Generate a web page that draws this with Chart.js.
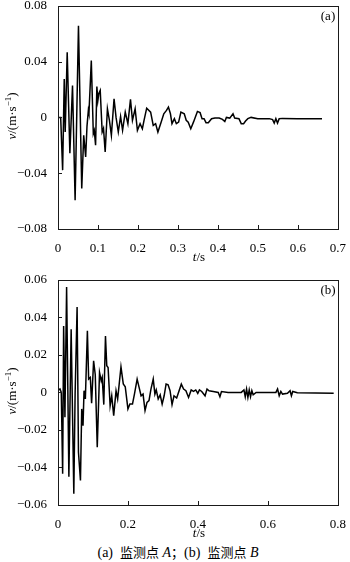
<!DOCTYPE html>
<html>
<head>
<meta charset="utf-8">
<script src="https://cdn.jsdelivr.net/npm/chart.js@4.4.1/dist/chart.umd.min.js"></script>
<style>
  body { margin: 0; background: #fff; }
  #wrap { position: relative; width: 350px; height: 562px; overflow: hidden; font-family: "Liberation Serif", serif; color: #000; }
  canvas { position: absolute; left: 0; }
  .lbl { position: absolute; transform: translate(-50%, -50%); white-space: nowrap; font-size: 13px; line-height: 1; }
  .ytitle { transform: translate(-50%, -50%) rotate(-90deg); }
  sup { font-size: 9px; vertical-align: 5px; }
  .cap { font-size: 14px; }
  .cjk { font-family: "Noto Sans CJK SC", sans-serif; font-size: 13px; }
</style>
</head>
<body>
<div id="wrap">
  <canvas id="chartA" width="350" height="260" style="top:-5px"></canvas>
  <canvas id="chartB" width="350" height="262" style="top:269px"></canvas>
  <div class="lbl" style="left:328px;top:15px">(a)</div>
  <div class="lbl" style="left:328px;top:289px">(b)</div>
  <div class="lbl ytitle" style="left:11px;top:116px"><i>v</i>/(m·s<sup>−1</sup>)</div>
  <div class="lbl ytitle" style="left:11px;top:391px"><i>v</i>/(m·s<sup>−1</sup>)</div>
  <div class="lbl" style="left:199px;top:256px"><i>t</i>/s</div>
  <div class="lbl" style="left:199px;top:532px"><i>t</i>/s</div>
  <div class="lbl cap" style="left:178px;top:552px">(a)&nbsp; <span class="cjk">监测点</span> <i>A</i><span class="cjk">；</span>(b)&nbsp; <span class="cjk">监测点</span> <i>B</i></div>
</div>
<script>
// (a) monitoring point A, t in s, v in m/s
const tA = [0, 0.0067, 0.0116, 0.0156, 0.018, 0.023, 0.0297, 0.0363, 0.0428, 0.0512,
  0.0594, 0.0643, 0.0692, 0.0725, 0.0759, 0.0774, 0.0833, 0.0883, 0.0907, 0.094,
  0.0972, 0.0997, 0.1021, 0.1056, 0.1105, 0.1138, 0.118, 0.1236, 0.1286, 0.1335,
  0.1402, 0.1452, 0.1508, 0.1565, 0.1615, 0.1682, 0.1748, 0.1813, 0.1862, 0.1929,
  0.1986, 0.2053, 0.211, 0.2152, 0.2218, 0.2317, 0.2382, 0.2441, 0.2498, 0.2579,
  0.2646, 0.2713, 0.2762, 0.2812, 0.2851, 0.2911, 0.296, 0.3017, 0.3074, 0.3158,
  0.3207, 0.3257, 0.3321, 0.3388, 0.3487, 0.3554, 0.3603, 0.3653, 0.3702, 0.3759,
  0.3841, 0.3925, 0.4031, 0.4113, 0.4172, 0.4212, 0.4296, 0.4377, 0.4419, 0.4526,
  0.4583, 0.4642, 0.4691, 0.4748, 0.483, 0.4996, 0.5285, 0.5367, 0.5408, 0.5449,
  0.549, 0.5532, 0.5614, 0.5985, 0.6603];
const vA = [0, 0, -0.0378, 0.0276, -0.0105, 0.0466, -0.0257, 0.0229, -0.0593, 0.0657,
  -0.0509, -0.0129, -0.0283, -0.0064, 0.005, 0.0029, 0.0407, -0.0116, -0.0093, -0.02,
  0.0221, 0.0121, 0.0171, 0.0193, -0.0105, -0.0079, -0.0248, 0.0062, -0.0021, -0.0129,
  0.0134, 0, -0.0105, 0.0007, -0.0093, 0.0038, -0.0045, 0.0129, -0.0021, 0.0062,
  -0.0093, -0.0045, -0.0081, -0.0021, 0.0066, 0.0038, -0.0057, -0.0045, -0.0105, -0.0034,
  0.0026, 0.005, 0.0074, 0.0026, -0.0045, -0.0009, -0.0045, -0.0034, 0.0038, 0.0026,
  -0.0021, -0.0034, -0.0081, -0.0034, 0.0043, 0.0034, -0.0009, -0.0009, -0.0038, -0.0038,
  -0.0009, -0.0005, -0.0005, -0.0014, -0.0029, 0, -0.0005, 0.0026, -0.0005, -0.0009,
  -0.0045, -0.0045, -0.0026, -0.0009, 0, -0.0009, -0.0009, -0.0016, -0.0041, -0.0009,
  -0.0041, -0.0009, -0.0007, -0.0009, -0.0009];

// (b) monitoring point B
const tB = [0, 0.0057, 0.0094, 0.0133, 0.0161, 0.0198, 0.0246, 0.0311, 0.0376, 0.0452,
  0.0489, 0.0546, 0.0585, 0.0642, 0.0678, 0.0715, 0.0744, 0.0782, 0.084, 0.0876,
  0.0924, 0.0961, 0.1018, 0.1065, 0.1122, 0.1187, 0.1235, 0.1263, 0.1309, 0.1357,
  0.1394, 0.1432, 0.149, 0.1536, 0.1592, 0.1659, 0.1705, 0.18, 0.1866, 0.1922,
  0.1999, 0.2055, 0.2129, 0.2185, 0.2262, 0.2318, 0.2375, 0.2431, 0.2488, 0.2544,
  0.2601, 0.2657, 0.2722, 0.277, 0.2808, 0.2864, 0.2921, 0.2977, 0.3034, 0.309,
  0.3147, 0.3203, 0.326, 0.3316, 0.3392, 0.3525, 0.359, 0.3656, 0.3732, 0.3807,
  0.3873, 0.3938, 0.3995, 0.4043, 0.4108, 0.4204, 0.426, 0.4317, 0.4438, 0.458,
  0.4628, 0.4673, 0.4862, 0.5239, 0.5315, 0.5352, 0.539, 0.5428, 0.5466, 0.5503,
  0.5541, 0.5579, 0.5663, 0.6229, 0.6276, 0.6323, 0.637, 0.6417, 0.6559, 0.6634,
  0.6672, 0.671, 0.6841, 0.788];
const vB = [0.001, 0.0018, 0, -0.0434, 0.0354, -0.0133, 0.0562, -0.0449, 0.0337, -0.054,
  -0.0009, 0.0455, -0.0319, -0.0469, -0.0088, -0.0177, 0.0009, -0.0035, 0.0328, 0.0071,
  0.008, -0.0058, 0.0168, 0.0094, -0.0292, 0.0106, 0.0062, 0.008, -0.0065, 0.0301,
  0.0142, 0.0133, -0.0071, -0.0018, -0.0124, 0.0009, -0.0035, 0.0136, 0.0045, 0.003,
  -0.0088, -0.0062, -0.0062, -0.0009, 0.0071, 0.0027, -0.0018, -0.0009, -0.0097, -0.0053,
  -0.0044, 0.0018, 0.0071, -0.0009, 0.0013, -0.0035, -0.0013, -0.0062, -0.0018, 0.0045,
  0.0041, 0.0009, -0.0065, -0.0018, -0.003, 0.0044, 0.0018, 0.0009, -0.0027, 0.0013,
  0.0005, 0.0013, -0.0005, 0.0013, 0.0005, -0.0018, 0.0018, 0.0009, 0.0005, 0,
  -0.0023, 0.0005, 0, 0, 0.0013, -0.0023, 0.0018, -0.0027, 0.0013, -0.0023,
  0.0009, -0.0013, 0, 0, 0.0018, -0.0018, 0.0005, -0.0009, -0.0005, 0.0009,
  -0.0018, 0.0005, -0.0002, -0.0004];

const fontTick = { family: "'Liberation Serif', serif", size: 13 };

const fmt = (digits) => (value) => {
  if (Math.abs(value) < 1e-9) return "0";
  return value.toFixed(digits).replace("-", "\u2212");
};

// box round the plot and short ticks pointing inward
const frame = {
  id: "frame",
  afterDraw(chart) {
    const { ctx, chartArea: a, scales } = chart;
    ctx.save();
    ctx.strokeStyle = "#1a1a1a";
    ctx.lineWidth = 1;
    ctx.beginPath();
    scales.x.ticks.forEach((t) => {
      const px = Math.round(scales.x.getPixelForValue(t.value)) + 0.5;
      ctx.moveTo(px, a.bottom);
      ctx.lineTo(px, a.bottom - 4);
    });
    scales.y.ticks.forEach((t) => {
      const py = Math.round(scales.y.getPixelForValue(t.value)) + 0.5;
      ctx.moveTo(a.left, py);
      ctx.lineTo(a.left + 4, py);
    });
    ctx.stroke();
    ctx.strokeRect(Math.round(a.left) + 0.5, Math.round(a.top) + 0.5,
      Math.round(a.right - a.left), Math.round(a.bottom - a.top));
    ctx.restore();
  },
};

const makeChart = (id, ts, vs, xMax, xStep, yMax, yStep) => {
  const points = ts.map((t, i) => ({ x: t, y: vs[i] }));
  return new Chart(document.getElementById(id), {
    type: "line",
    data: {
      datasets: [{
        data: points,
        borderColor: "#000",
        borderWidth: 1.5,
        pointRadius: 0,
        tension: 0,
        fill: false,
      }],
    },
    options: {
      responsive: false,
      animation: false,
      devicePixelRatio: 1,
      layout: { padding: { top: 10, right: 9, left: 0, bottom: 0 } },
      plugins: { legend: { display: false }, tooltip: { enabled: false } },
      scales: {
        x: {
          type: "linear",
          min: 0,
          max: xMax,
          grid: { display: false },
          border: { display: false },
          afterFit: (s) => { s.height = 26; },
          ticks: { stepSize: xStep, color: "#000", font: fontTick, padding: 4, maxRotation: 0, callback: fmt(1) },
        },
        y: {
          min: -yMax,
          max: yMax,
          grid: { display: false },
          border: { display: false },
          afterFit: (s) => { s.width = 58; },
          ticks: { stepSize: yStep, color: "#000", font: fontTick, padding: 3, callback: fmt(2) },
        },
      },
    },
    plugins: [frame],
  });
};

makeChart("chartA", tA, vA, 0.7, 0.1, 0.08, 0.04);
makeChart("chartB", tB, vB, 0.8, 0.2, 0.06, 0.02);
</script>
</body>
</html>
